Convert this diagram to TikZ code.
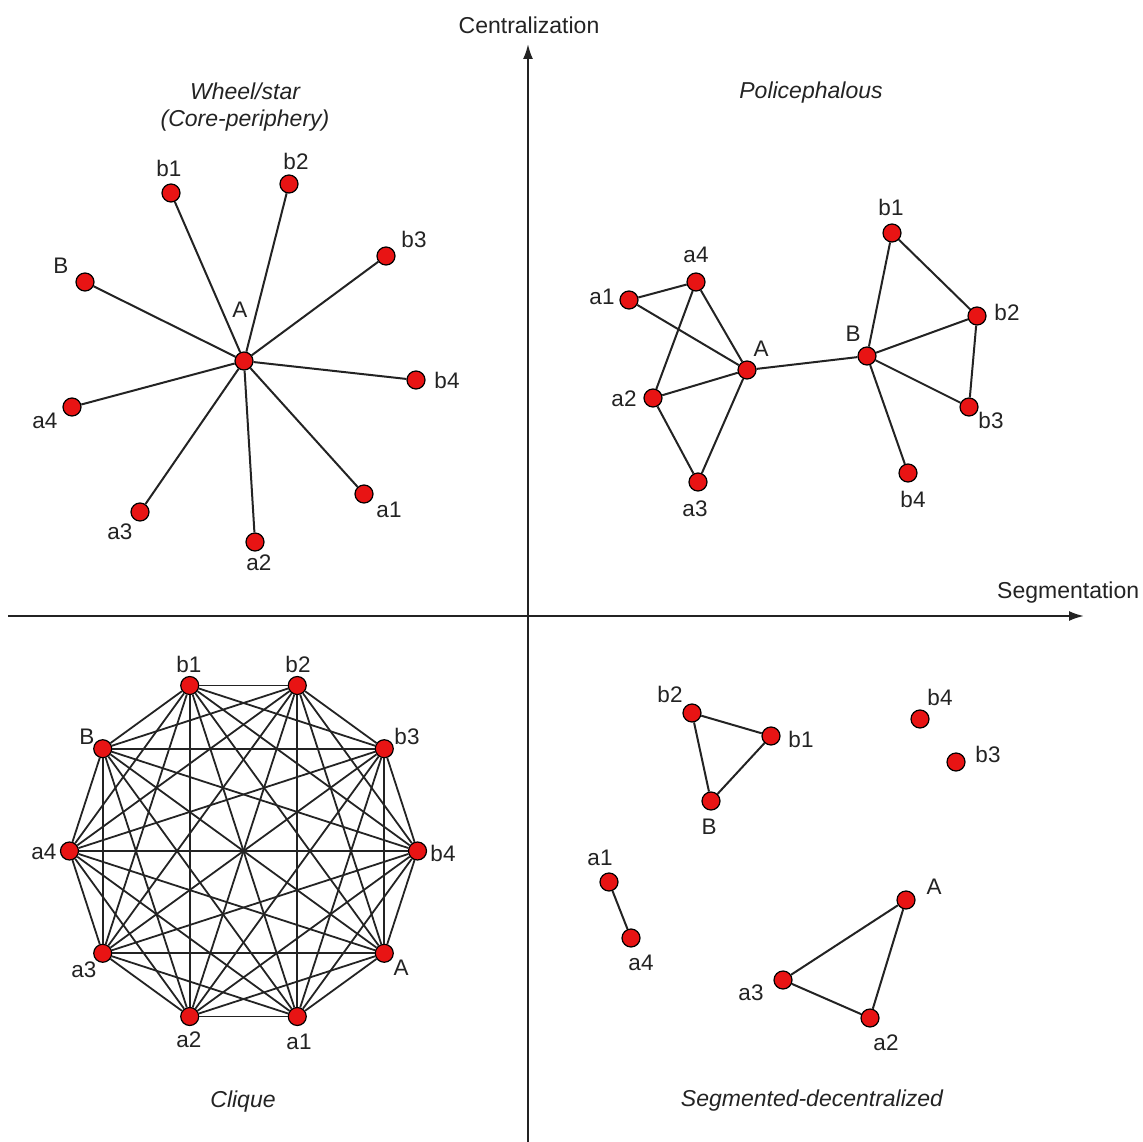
\documentclass[tikz,border=0pt]{standalone}
\usepackage{fontspec}
\setmainfont{Liberation Sans}
\usetikzlibrary{arrows.meta}
\definecolor{nodered}{RGB}{232,20,20}
\definecolor{ink}{RGB}{35,35,35}
\begin{document}
\begin{tikzpicture}[x=1pt,y=-1pt,
  vtx/.style={circle,draw=black,fill=nodered,minimum size=18pt,inner sep=0pt,line width=1.2pt},
  lbl/.style={font=\fontsize{22.5}{26}\selectfont,text=ink,inner sep=0pt},
  ttl/.style={font=\fontsize{23}{27}\selectfont\itshape,text=ink,inner sep=0pt,align=center},
  edge/.style={line width=2pt,draw=ink},
  axis/.style={line width=2pt,draw=ink,-{Latex[length=15pt,width=10pt]}}]
\useasboundingbox (0,0) rectangle (1143,1142);
% axes
\coordinate (xs) at (8,616);
\coordinate (xe) at (1084,616);
\coordinate (ys) at (528,1142);
\coordinate (ye) at (528,44);
\draw[axis] (xs) -- (xe);
\draw[axis] (ys) -- (ye);
\node[lbl,font=\fontsize{23}{27}\selectfont] (cent) at (529,25) {Centralization};
\node[lbl,font=\fontsize{23}{27}\selectfont,anchor=west] (segm) at (997,593) {Segmentation};
% titles
\node[ttl] (t1) at (245,107) {Wheel/star\\(Core-periphery)};
\node[ttl] (t2) at (811,93) {Policephalous};
\node[ttl] (t3) at (243,1102) {Clique};
\node[ttl] (t4) at (812,1101) {Segmented-decentralized};
% ---------- Wheel/star ----------
\node[vtx] (wA) at (244,361) {};
\node[vtx] (wb1) at (171,193) {};
\node[vtx] (wb2) at (289,184) {};
\node[vtx] (wb3) at (386,256) {};
\node[vtx] (wB) at (85,282) {};
\node[vtx] (wb4) at (416,380) {};
\node[vtx] (wa4) at (72,407) {};
\node[vtx] (wa1) at (364,494) {};
\node[vtx] (wa3) at (140,512) {};
\node[vtx] (wa2) at (255,542) {};
\foreach \n in {wb1,wb2,wb3,wB,wb4,wa4,wa1,wa3,wa2} \draw[edge] (wA) -- (\n);
\node[lbl] (lwA) at (240,310) {A};
\node[lbl] (lwb1) at (169,168) {b1};
\node[lbl] (lwb2) at (296,161) {b2};
\node[lbl] (lwb3) at (414,239) {b3};
\node[lbl] (lwB) at (61,266) {B};
\node[lbl] (lwb4) at (447,380) {b4};
\node[lbl] (lwa4) at (45,421) {a4};
\node[lbl] (lwa1) at (389,510) {a1};
\node[lbl] (lwa3) at (120,532) {a3};
\node[lbl] (lwa2) at (259,563) {a2};
% ---------- Policephalous ----------
\node[vtx] (pa4) at (696,282) {};
\node[vtx] (pa1) at (629,300) {};
\node[vtx] (pA) at (747,370) {};
\node[vtx] (pa2) at (653,398) {};
\node[vtx] (pa3) at (698,482) {};
\node[vtx] (pB) at (867,356) {};
\node[vtx] (pb1) at (892,233) {};
\node[vtx] (pb2) at (977,316) {};
\node[vtx] (pb3) at (969,407) {};
\node[vtx] (pb4) at (908,473) {};
\draw[edge] (pa1) -- (pa4);
\draw[edge] (pa1) -- (pA);
\draw[edge] (pa4) -- (pA);
\draw[edge] (pa4) -- (pa2);
\draw[edge] (pa2) -- (pA);
\draw[edge] (pa2) -- (pa3);
\draw[edge] (pa3) -- (pA);
\draw[edge] (pA) -- (pB);
\draw[edge] (pB) -- (pb1);
\draw[edge] (pb1) -- (pb2);
\draw[edge] (pB) -- (pb2);
\draw[edge] (pb2) -- (pb3);
\draw[edge] (pB) -- (pb3);
\draw[edge] (pB) -- (pb4);
\node[lbl] (lpa4) at (696,255) {a4};
\node[lbl] (lpa1) at (602,297) {a1};
\node[lbl] (lpA) at (761,349) {A};
\node[lbl] (lpa2) at (624,399) {a2};
\node[lbl] (lpa3) at (695,509) {a3};
\node[lbl] (lpB) at (853,334) {B};
\node[lbl] (lpb1) at (891,207) {b1};
\node[lbl] (lpb2) at (1007,312) {b2};
\node[lbl] (lpb3) at (991,420) {b3};
\node[lbl] (lpb4) at (913,499) {b4};
% ---------- Clique ----------
\foreach \n/\ang in {cb4/0,cb3/36,cb2/72,cb1/108,cB/144,ca4/180,ca3/216,ca2/252,ca1/288,cA/324}
  \node[vtx] (\n) at ({243.5+174*cos(\ang)},{851-174*sin(\ang)}) {};
\foreach \i/\n in {1/cb4,2/cb3,3/cb2,4/cb1,5/cB,6/ca4,7/ca3,8/ca2,9/ca1,10/cA}{
  \foreach \j/\m in {1/cb4,2/cb3,3/cb2,4/cb1,5/cB,6/ca4,7/ca3,8/ca2,9/ca1,10/cA}{
    \ifnum\i<\j \draw[edge,line width=1.8pt] (\n) -- (\m);\fi
  }
}
\node[lbl] (lcb1) at (189,664) {b1};
\node[lbl] (lcb2) at (298,664) {b2};
\node[lbl] (lcB) at (87,737) {B};
\node[lbl] (lcb3) at (407,736) {b3};
\node[lbl] (lca4) at (44,852) {a4};
\node[lbl] (lcb4) at (443,853) {b4};
\node[lbl] (lca3) at (84,970) {a3};
\node[lbl] (lcA) at (401,968) {A};
\node[lbl] (lca2) at (189,1040) {a2};
\node[lbl] (lca1) at (299,1042) {a1};
% ---------- Segmented-decentralized ----------
\node[vtx] (sb2) at (692,713) {};
\node[vtx] (sb1) at (771,736) {};
\node[vtx] (sB) at (711,801) {};
\node[vtx] (sb4) at (920,719) {};
\node[vtx] (sb3) at (956,762) {};
\node[vtx] (sa1) at (609,882) {};
\node[vtx] (sa4) at (631,938) {};
\node[vtx] (sA) at (906,900) {};
\node[vtx] (sa3) at (783,980) {};
\node[vtx] (sa2) at (870,1018) {};
\draw[edge] (sb2) -- (sb1);
\draw[edge] (sb1) -- (sB);
\draw[edge] (sB) -- (sb2);
\draw[edge] (sa1) -- (sa4);
\draw[edge] (sA) -- (sa3);
\draw[edge] (sa3) -- (sa2);
\draw[edge] (sa2) -- (sA);
\node[lbl] (lsb2) at (670,694) {b2};
\node[lbl] (lsb1) at (801,739) {b1};
\node[lbl] (lsB) at (709,827) {B};
\node[lbl] (lsb4) at (940,697) {b4};
\node[lbl] (lsb3) at (988,754) {b3};
\node[lbl] (lsa1) at (600,858) {a1};
\node[lbl] (lsa4) at (641,963) {a4};
\node[lbl] (lsA) at (934,887) {A};
\node[lbl] (lsa3) at (751,993) {a3};
\node[lbl] (lsa2) at (886,1043) {a2};
\end{tikzpicture}
\end{document}
